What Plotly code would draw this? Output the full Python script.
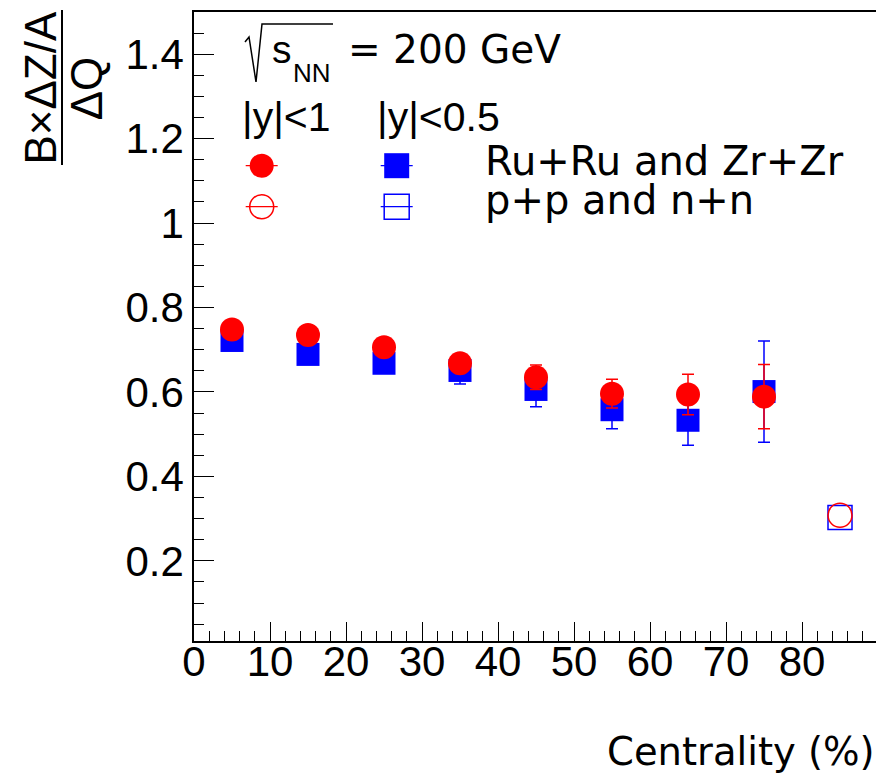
import plotly.graph_objects as go

# Centrality bin centres (%)
centrality = [5, 15, 25, 35, 45, 55, 65, 75]

# Ru+Ru and Zr+Zr, |y|<1 (red filled circles)
ratio_y1 = [0.748, 0.735, 0.706, 0.668, 0.635, 0.596, 0.594, 0.589]
err_y1 = [0.012, 0.014, 0.017, 0.021, 0.029, 0.034, 0.048, 0.076]

# Ru+Ru and Zr+Zr, |y|<0.5 (blue filled squares)
ratio_y05 = [0.722, 0.689, 0.668, 0.651, 0.606, 0.558, 0.533, 0.601]
err_y05 = [0.015, 0.018, 0.022, 0.032, 0.041, 0.045, 0.059, 0.120]

# p+p and n+n reference point
pp_centrality = [85]
pp_y1 = [0.308]
pp_y05 = [0.303]

RED = "#ff0000"
BLUE = "#0000ff"
W, H = 876, 781
L, R, T, B = 194, 0, 12, 140
PW, PH = W - L - R, H - T - B


def px(x):
    """pixel column -> paper x"""
    return (x - L) / PW


def py(y):
    """pixel row -> paper y"""
    return (H - B - y) / PH


fig = go.Figure()

fig.add_trace(go.Scatter(
    x=centrality, y=ratio_y05, mode="markers",
    marker=dict(symbol="square", size=23, color=BLUE, line=dict(width=0)),
    error_y=dict(type="data", array=err_y05, color=BLUE, thickness=1.5, width=6),
    showlegend=False))
fig.add_trace(go.Scatter(
    x=centrality, y=ratio_y1, mode="markers",
    marker=dict(symbol="circle", size=24, color=RED, line=dict(width=0)),
    error_y=dict(type="data", array=err_y1, color=RED, thickness=1.5, width=6),
    showlegend=False))
fig.add_trace(go.Scatter(
    x=pp_centrality, y=pp_y05, mode="markers",
    marker=dict(symbol="square-open", size=24, color=BLUE, line=dict(width=1.5, color=BLUE)),
    showlegend=False))
fig.add_trace(go.Scatter(
    x=pp_centrality, y=pp_y1, mode="markers",
    marker=dict(symbol="circle-open", size=24, color=RED, line=dict(width=1.5, color=RED)),
    showlegend=False))

TICKFONT = dict(family="Liberation Sans, Arial, sans-serif", size=42, color="black")

fig.update_xaxes(
    range=[0, (W - L) / 7.6], tick0=0, dtick=10, ticks="inside", ticklen=19,
    tickwidth=1, tickcolor="black", tickfont=TICKFONT, ticklabelstandoff=-17,
    minor=dict(dtick=2, ticks="inside", ticklen=10, tickwidth=1, tickcolor="black"),
    showline=True, linecolor="black", linewidth=1.5, mirror=True,
    showgrid=False, zeroline=False)
fig.update_yaxes(
    range=[0.0102, 1.5], tick0=0, dtick=0.2, ticks="inside", ticklen=20,
    tickwidth=1, tickcolor="black", tickfont=TICKFONT,
    minor=dict(dtick=0.05, ticks="inside", ticklen=10, tickwidth=1, tickcolor="black"),
    showline=True, linecolor="black", linewidth=1.5, mirror=False,
    showgrid=False, zeroline=False)

LIB = "Liberation Sans, Arial, sans-serif"
DJV = "DejaVu Sans, sans-serif"

annotations = []


def text(s, x, y, family, size, xanchor="left", angle=0):
    annotations.append(dict(
        text=s, x=px(x), y=py(y), xref="paper", yref="paper",
        xanchor=xanchor, yanchor="middle", showarrow=False, textangle=angle,
        font=dict(family=family, size=size, color="black")))


# collision energy label
text("s", 270, 63 - 0.35 * 39, LIB, 39)
text("NN", 291, 82 - 0.35 * 26, LIB, 26)
text("= 200 GeV", 346, 63 - 0.35 * 39, DJV, 39)

# rapidity column headers
text("|y|<1", 240, 131.7 - 0.35 * 41, LIB, 41)
text("|y|<0.5", 375, 131.7 - 0.35 * 41, LIB, 41)

# legend labels
text("Ru+Ru and Zr+Zr", 483, 175 - 0.35 * 40, DJV, 40)
text("p+p and n+n", 483, 214 - 0.35 * 40, DJV, 40)

# axis titles
text("Centrality (%)", 877, 765 - 0.35 * 38.5, DJV, 38.5, xanchor="right")
annotations.append(dict(
    text="B×ΔZ/A", x=px(39.6), y=py(88), xref="paper", yref="paper",
    xanchor="center", yanchor="middle", showarrow=False, textangle=-90,
    font=dict(family=LIB, size=44, color="black")))
annotations.append(dict(
    text="ΔQ", x=px(86.3), y=py(88), xref="paper", yref="paper",
    xanchor="center", yanchor="middle", showarrow=False, textangle=-90,
    font=dict(family=LIB, size=44, color="black")))

shapes = []
# fraction bar of the y title
shapes.append(dict(type="line", xref="paper", yref="paper",
                   x0=px(62), x1=px(62), y0=py(10), y1=py(165),
                   line=dict(color="black", width=2)))

# radical sign over s_NN
pts = [(245, 42), (249, 37), (256, 82), (262, 24), (333, 24)]
path = "M " + " L ".join(f"{px(a):.5f},{py(b):.5f}" for a, b in pts)
shapes.append(dict(type="path", xref="paper", yref="paper", path=path,
                   line=dict(color="black", width=1.5)))


def legend_marker(cx, cy, kind, color, filled):
    # horizontal stroke through the marker
    line = dict(type="line", xref="paper", yref="paper",
                x0=px(cx - 16), x1=px(cx + 16), y0=py(cy), y1=py(cy),
                line=dict(color=color, width=1.2))
    r = 12 if kind == "circle" else 12.5
    mark = dict(type=kind, xref="paper", yref="paper",
                x0=px(cx - r), x1=px(cx + r), y0=py(cy + r), y1=py(cy - r),
                line=dict(color=color, width=0 if filled else 1.5),
                fillcolor=color if filled else "rgba(0,0,0,0)")
    if filled:
        shapes.extend([line, mark])
    else:
        shapes.extend([mark, line])


legend_marker(261.7, 165.7, "circle", RED, True)
legend_marker(261.7, 206.7, "circle", RED, False)
legend_marker(396.7, 165.7, "rect", BLUE, True)
legend_marker(396.7, 206.7, "rect", BLUE, False)

fig.update_layout(
    width=W, height=H, autosize=False,
    margin=dict(l=L, r=R, t=T, b=B, pad=0),
    paper_bgcolor="white", plot_bgcolor="white",
    annotations=annotations, shapes=shapes,
    showlegend=False)

fig.write_html("out.html")
